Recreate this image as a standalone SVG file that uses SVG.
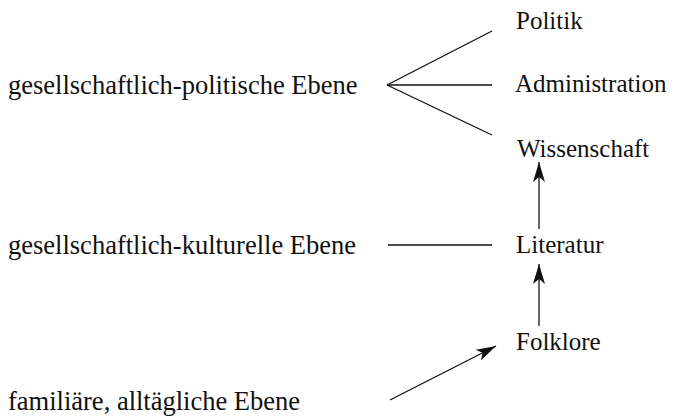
<svg xmlns="http://www.w3.org/2000/svg" width="675" height="417" viewBox="0 0 675 417">
<style>
text{font-family:"Liberation Serif","Times New Roman",serif;font-size:25px;fill:#111}
.lvl text{font-size:26.5px}
.c line{stroke:#111;stroke-width:1.3;fill:none}
</style>
<defs>
<marker id="ah" markerUnits="userSpaceOnUse" markerWidth="20" markerHeight="12" refX="20" refY="6" orient="auto" viewBox="0 0 20 12">
<path d="M0,0 L20,6 L0,12 L5,6 Z" fill="#111"/>
</marker>
</defs>
<rect width="675" height="417" fill="#fff"/>
<g class="lvl" id="lvl-pol"><text x="8" y="94">gesellschaftlich-politische Ebene</text></g>
<g class="lvl" id="lvl-kul"><text x="8" y="254">gesellschaftlich-kulturelle Ebene</text></g>
<g class="lvl" id="lvl-fam"><text x="8" y="410">familiäre, alltägliche Ebene</text></g>
<g id="politik"><text x="516" y="29">Politik</text></g>
<g id="administration"><text x="515" y="92">Administration</text></g>
<g id="wissenschaft"><text x="517" y="157">Wissenschaft</text></g>
<g id="literatur"><text x="516" y="253">Literatur</text></g>
<g id="folklore"><text x="516" y="350">Folklore</text></g>
<g class="c" id="connectors">
<line x1="387" y1="85" x2="492" y2="31"/>
<line x1="387" y1="85" x2="492" y2="85"/>
<line x1="387" y1="85" x2="492" y2="135"/>
<line x1="388" y1="245" x2="492" y2="245"/>
<line x1="539" y1="229" x2="539" y2="162" marker-end="url(#ah)"/>
<line x1="539" y1="326" x2="539" y2="264" marker-end="url(#ah)"/>
<line x1="390" y1="400" x2="496" y2="346" marker-end="url(#ah)"/>
</g>
</svg>
